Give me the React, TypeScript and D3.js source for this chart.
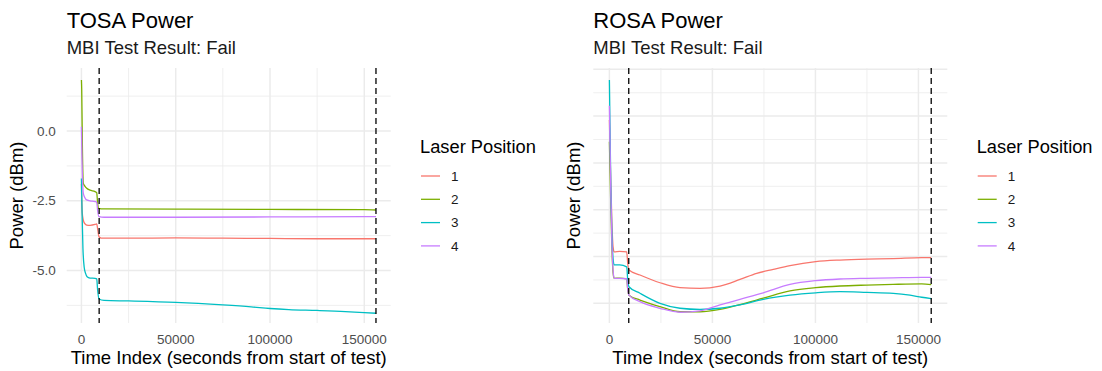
import React from "react";
import * as d3 from "d3";

// ---------- DATA ----------
const laserPositions = ["1", "2", "3", "4"];
const seriesColors = ["#F8766D", "#7CAE00", "#00BFC4", "#C77CFF"];

// TOSA power (dBm) : [time index (s), power]
const tosa1: [number, number][] = [[0, -1.9], [400, -2.9], [1000, -3.19], [1900, -3.33], [2800, -3.37], [4560, -3.38], [7200, -3.35], [8100, -3.33], [8700, -3.55], [9300, -3.79], [10500, -3.84], [25000, -3.84], [50000, -3.83], [75000, -3.84], [100000, -3.85], [125000, -3.86], [150000, -3.86], [156200, -3.86]];
const tosa2: [number, number][] = [[0, 1.83], [150, 1.5], [500, -0.5], [1000, -1.88], [1900, -1.98], [2800, -2.05], [4560, -2.12], [7200, -2.17], [8100, -2.21], [8500, -2.5], [9000, -2.77], [12000, -2.79], [50000, -2.8], [100000, -2.81], [150000, -2.82], [156200, -2.83]];
const tosa3: [number, number][] = [[0, -1.7], [300, -2.8], [800, -4.2], [1500, -4.9], [2200, -5.1], [3000, -5.22], [4560, -5.27], [7200, -5.28], [8100, -5.3], [8600, -5.7], [9300, -6.02], [12000, -6.07], [25000, -6.09], [50000, -6.14], [75000, -6.23], [90000, -6.3], [100000, -6.36], [110000, -6.4], [125000, -6.43], [140000, -6.47], [150000, -6.51], [156200, -6.53]];
const tosa4: [number, number][] = [[0, 0.15], [300, -1.0], [1000, -2.23], [1900, -2.4], [2800, -2.47], [4560, -2.5], [7200, -2.53], [8100, -2.55], [8600, -2.85], [9300, -3.07], [12000, -3.09], [50000, -3.09], [100000, -3.08], [150000, -3.07], [156200, -3.07]];

// ROSA power (axis labels blank in the original)
const rosa1: [number, number][] = [[0, -2.17], [600, -4.5], [1200, -6.5], [1800, -7.6], [2300, -7.8], [5000, -7.78], [8400, -7.8], [8900, -8.3], [9500, -8.58], [14850, -8.79], [24560, -9.12], [34270, -9.33], [43980, -9.36], [53690, -9.26], [63390, -8.98], [71500, -8.72], [79560, -8.55], [87660, -8.39], [100140, -8.22], [111900, -8.15], [124900, -8.11], [137800, -8.09], [151600, -8.05], [156200, -8.05]];
const rosa2: [number, number][] = [[0, -3.09], [600, -5.5], [1200, -7.6], [1800, -8.7], [2300, -8.93], [5000, -8.92], [8400, -8.95], [8900, -9.4], [9500, -9.65], [14850, -9.86], [24560, -10.14], [34270, -10.36], [43980, -10.36], [53690, -10.26], [63390, -10.05], [74700, -9.78], [87660, -9.47], [100140, -9.33], [111900, -9.26], [124900, -9.22], [137800, -9.19], [151600, -9.17], [156200, -9.2]];
const rosa3: [number, number][] = [[0, -0.46], [300, -2.5], [700, -5.0], [1200, -7.0], [1800, -8.1], [2300, -8.36], [5000, -8.36], [8400, -8.44], [8900, -9.0], [9500, -9.29], [14850, -9.57], [24560, -10.0], [34270, -10.21], [43980, -10.26], [53690, -10.21], [63390, -10.07], [74700, -9.83], [87660, -9.65], [100140, -9.55], [111900, -9.5], [124900, -9.53], [137800, -9.57], [145900, -9.65], [151600, -9.74], [156200, -9.8]];
const rosa4: [number, number][] = [[0, -1.56], [600, -4.8], [1200, -7.3], [1800, -8.6], [2300, -8.93], [5000, -8.93], [8400, -8.95], [8900, -9.4], [9500, -9.65], [14850, -9.93], [24560, -10.21], [34270, -10.38], [43980, -10.32], [53690, -10.07], [63390, -9.83], [74700, -9.55], [87660, -9.19], [100140, -9.03], [111900, -8.96], [124900, -8.93], [137800, -8.91], [151600, -8.89], [156200, -8.89]];

const xTicks = [0, 50000, 100000, 150000];
const xMinorTicks = [25000, 75000, 125000];
const tosaYTicks = [0, -2.5, -5];
const tosaYTickLabels = ["0.0", "-2.5", "-5.0"];
const tosaYMinor = [1.25, -1.25, -3.75, -6.25];
const rosaYTicks = [0, -2, -4, -6, -8, -10];
const rosaYMinor = [-1, -3, -5, -7, -9];
const markerTimes = [9400, 156200];

const FONT = "'Liberation Sans', Arial, Helvetica, sans-serif";

type PanelProps = {
  title: string;
  subtitle: string;
  left: number;
  right: number;
  yDomain: [number, number];
  series: [number, number][][];
  yTicks: number[];
  yTickLabels: string[] | null;
  yMinor: number[];
  yTitleX: number;
  legendX: number;
};

const TOP = 68;
const BOTTOM = 323;

function Panel(p: PanelProps) {
  const x = d3.scaleLinear().domain([-7810, 164010]).range([p.left, p.right]);
  const y = d3.scaleLinear().domain(p.yDomain).range([BOTTOM, TOP]);
  const line = d3
    .line<[number, number]>()
    .x((d) => x(d[0]))
    .y((d) => y(d[1]))
    .curve(d3.curveMonotoneX);
  const cx = (p.left + p.right) / 2;
  const cy = (TOP + BOTTOM) / 2;
  return (
    <g>
      <text x={p.left} y={28} fontSize={22} fill="#000" fontFamily={FONT}>{p.title}</text>
      <text x={p.left} y={54} fontSize={18.5} fill="#1a1a1a" fontFamily={FONT}>{p.subtitle}</text>
      {/* grid */}
      {p.yMinor.map((v) => (
        <line key={"ym" + v} x1={p.left} x2={p.right} y1={y(v)} y2={y(v)} stroke="#EBEBEB" strokeWidth={0.8} />
      ))}
      {xMinorTicks.map((v) => (
        <line key={"xm" + v} x1={x(v)} x2={x(v)} y1={TOP} y2={BOTTOM} stroke="#EBEBEB" strokeWidth={0.8} />
      ))}
      {p.yTicks.map((v) => (
        <line key={"y" + v} x1={p.left} x2={p.right} y1={y(v)} y2={y(v)} stroke="#EBEBEB" strokeWidth={1.5} />
      ))}
      {xTicks.map((v) => (
        <line key={"x" + v} x1={x(v)} x2={x(v)} y1={TOP} y2={BOTTOM} stroke="#EBEBEB" strokeWidth={1.5} />
      ))}
      {/* series */}
      {p.series.map((s, i) => (
        <path key={i} d={line(s) || ""} fill="none" stroke={seriesColors[i]} strokeWidth={1.3} />
      ))}
      {markerTimes.map((t) => (
        <line key={"m" + t} x1={x(t)} x2={x(t)} y1={TOP} y2={BOTTOM} stroke="#000" strokeWidth={1.3} strokeDasharray="6,4" />
      ))}
      {/* ticks */}
      {p.yTickLabels &&
        p.yTicks.map((v, i) => (
          <text key={"yl" + v} x={p.left - 11} y={y(v)} dy="0.35em" textAnchor="end" fontSize={13.5} fill="#4D4D4D" fontFamily={FONT}>
            {p.yTickLabels![i]}
          </text>
        ))}
      {xTicks.map((v) => (
        <text key={"xl" + v} x={x(v)} y={344} textAnchor="middle" fontSize={13.5} fill="#4D4D4D" fontFamily={FONT}>
          {String(v)}
        </text>
      ))}
      <text x={cx} y={364} textAnchor="middle" fontSize={18.5} fill="#000" fontFamily={FONT}>
        Time Index (seconds from start of test)
      </text>
      <text transform={`translate(${p.yTitleX},${cy}) rotate(-90)`} textAnchor="middle" fontSize={18.5} fill="#000" fontFamily={FONT}>
        Power (dBm)
      </text>
      {/* legend */}
      <text x={p.legendX} y={153} fontSize={18.3} fill="#000" fontFamily={FONT}>Laser Position</text>
      {laserPositions.map((lab, i) => {
        const ly = 176 + i * 23.3;
        return (
          <g key={lab}>
            <line x1={p.legendX + 1} x2={p.legendX + 20} y1={ly} y2={ly} stroke={seriesColors[i]} strokeWidth={1.3} />
            <text x={p.legendX + 31} y={ly} dy="0.35em" fontSize={13.5} fill="#1a1a1a" fontFamily={FONT}>{lab}</text>
          </g>
        );
      })}
    </g>
  );
}

export default function App() {
  return (
    <div>
      <style>{`body{margin:0}`}</style>
      <svg width={1102} height={371} style={{ display: "block", background: "#fff" }}>
        <Panel
          title="TOSA Power"
          subtitle="MBI Test Result: Fail"
          left={66.7}
          right={390.7}
          yDomain={[-6.88, 2.258]}
          series={[tosa1, tosa2, tosa3, tosa4]}
          yTicks={tosaYTicks}
          yTickLabels={tosaYTickLabels}
          yMinor={tosaYMinor}
          yTitleX={23}
          legendX={420}
        />
        <Panel
          title="ROSA Power"
          subtitle="MBI Test Result: Fail"
          left={593.3}
          right={947.3}
          yDomain={[-10.84, 0.056]}
          series={[rosa1, rosa2, rosa3, rosa4]}
          yTicks={rosaYTicks}
          yTickLabels={null}
          yMinor={rosaYMinor}
          yTitleX={579.5}
          legendX={976.7}
        />
      </svg>
    </div>
  );
}
